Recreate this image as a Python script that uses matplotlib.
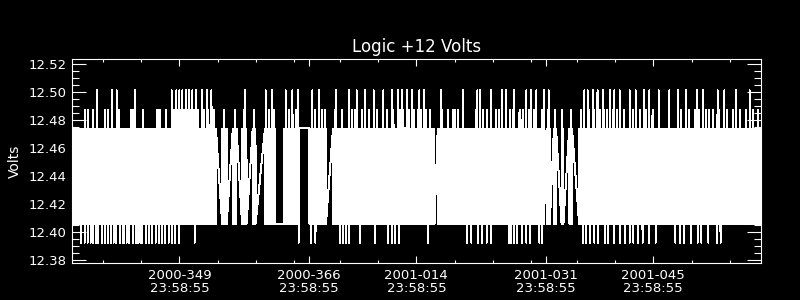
import numpy as np
import matplotlib.pyplot as plt

# time axis: days after 2000-349 23:58:55
x_range = (-14.04, 76.05)
major_days = [0, 17, 31, 48, 62]
major_labels = ["2000-349\n23:58:55", "2000-366\n23:58:55", "2001-014\n23:58:55",
                "2001-031\n23:58:55", "2001-045\n23:58:55"]
minor_days = [-10, -5, 5, 10, 15, 21, 26, 36, 41, 46, 52, 57, 67, 72]

# quantised voltage levels seen in the telemetry
band_low = 12.4062
band_high = 12.4742
low_spike = 12.3926
up1_spike = 12.4878
up2_spike = 12.5014

# stretches where samples are dense (days) and the level at each end of them
dense_spans = [(-14.04, 4.8), (5.6, 6.2), (7.0, 7.5), (8.2, 8.8), (9.6, 10.0),
               (11.2, 12.6), (13.7, 15.7), (17.0, 19.2), (20.1, 29.4), (29.6, 33.4),
               (33.8, 47.8), (48.1, 48.5), (49.0, 49.3), (50.0, 50.25), (51.0, 51.4),
               (52.3, 76.05)]
span_first = ['lo', 'lo', 'hi', 'lo', 'hi', 'hi', 'lo', 'hi', 'hi', 'hi',
              'hi', 'lo', 'hi', 'lo', 'hi', 'lo']
span_last = ['hi', 'lo', 'hi', 'lo', 'lo', 'lo', 'hi', 'lo', 'hi', 'lo',
             'hi', 'lo', 'hi', 'lo', 'hi', 'lo']

# spike times (days)
up2_days = [-10.8, -8.8, -8.2, -5.8, -1.0, -0.4, 0.0, 0.4, 0.9, 1.3, 1.7, 2.2, 3.0, 3.6,
            4.2, 8.6, 11.3, 12.1, 13.9, 14.8, 15.5, 17.4, 18.3, 20.5, 22.2, 23.2, 24.3,
            25.4, 26.7, 27.8, 28.6, 29.1, 29.8, 30.4, 31.4, 32.0, 34.2, 37.1, 39.0, 39.3,
            40.8, 42.2, 42.7, 43.8, 45.4, 46.0, 46.7, 47.7, 48.3, 52.98, 53.4, 54.1,
            54.7, 55.4, 56.3, 56.9, 57.6, 58.9, 59.7, 60.8, 61.5, 62.7, 64.1, 65.2, 66.3,
            67.7, 68.5, 70.4, 71.3, 72.8, 74.6]
up1_days = [-12.4, -11.9, -11.3, -9.7, -9.3, -7.9, -6.3, -6.0, -4.7, -2.9, -2.7, -2.5,
            -1.7, -0.7, -0.2, 0.2, 0.6, 1.0, 1.5, 1.9, 2.5, 3.2, 3.8, 4.5, 5.9, 7.3, 8.4,
            9.8, 11.7, 12.4, 14.3, 15.2, 17.8, 18.7, 19.0, 20.4, 21.3, 22.6, 23.0, 23.9,
            24.8, 25.9, 27.2, 28.0, 28.9, 29.3, 30.0, 30.7, 31.2, 31.6, 32.3, 32.8, 34.4,
            35.1, 35.8, 36.1, 36.4, 38.8, 39.7, 40.3, 41.4, 41.8, 43.2, 43.6, 44.5, 44.9,
            45.8, 46.4, 47.4, 48.2, 49.1, 50.1, 51.2, 52.5, 53.6, 54.3, 55.0, 55.6, 56.0,
            56.7, 57.3, 58.2, 59.3, 60.2, 61.0, 61.9, 65.6, 66.7, 67.4, 68.0, 68.9, 69.3,
            69.8, 70.6, 71.7, 72.4, 73.3, 74.1, 75.0, 75.7]
low_days = [-12.9, -12.4, -12.0, -11.6, -11.3, -10.9, -10.6, -10.1, -9.7, -9.3, -8.9,
            -8.6, -8.3, -7.8, -7.4, -7.2, -6.9, -6.6, -6.1, -5.7, -5.4, -5.1, -4.9, -4.4,
            -4.0, -3.6, -3.1, -2.7, -2.3, -1.9, -1.4, -0.95, -0.55, 0.0, 2.0, 15.6, 17.2,
            17.8, 21.0, 21.4, 21.8, 22.2, 23.6, 25.6, 27.3, 27.8, 28.2, 28.7, 32.5, 37.6,
            38.2, 39.1, 39.6, 40.2, 40.8, 43.1, 43.4, 43.8, 44.2, 44.8, 45.4, 45.9, 47.1,
            47.4, 52.8, 53.2, 53.7, 54.3, 54.8, 55.7, 56.1, 56.9, 57.6, 58.3, 58.9, 59.4,
            60.0, 60.6, 61.4, 62.3, 64.9, 65.5, 66.0, 66.9, 67.8, 68.3, 69.2, 70.3, 70.8]

# build the sample sequence: dense samples flip between the two band levels
level = {'lo': band_low, 'hi': band_high}
t_parts, v_parts = [], []
for (a, b), first, last in zip(dense_spans, span_first, span_last):
    tt = np.arange(a, b, 0.02)
    other = 'hi' if first == 'lo' else 'lo'
    vv = np.where(np.arange(len(tt)) % 2 == 0, level[first], level[other])
    if vv[-1] != level[last]:
        tt, vv = tt[:-1], vv[:-1]
    t_parts.append(tt)
    v_parts.append(vv)
t_parts += [np.array(up2_days), np.array(up1_days), np.array(low_days)]
v_parts += [np.full(len(up2_days), up2_spike), np.full(len(up1_days), up1_spike),
            np.full(len(low_days), low_spike)]
t = np.concatenate(t_parts)
v = np.concatenate(v_parts)
order = np.argsort(t, kind="stable")
t, v = t[order], v[order]

plt.rcParams['font.family'] = ['DejaVu Sans']
fig = plt.figure(figsize=(8, 3), dpi=100, facecolor='black')
ax = fig.add_axes([0.09, 0.1223, 0.8609, 0.68], facecolor='black')

ax.plot(t, v, color='white', lw=0.72, antialiased=False)

ax.set_xlim(*x_range)
ax.set_ylim(12.3779, 12.5236)
ax.set_xticks(major_days)
ax.set_xticklabels(major_labels)
ax.set_xticks(minor_days, minor=True)
yt = np.arange(12.38, 12.521, 0.02)
ax.set_yticks(yt)
ax.set_yticklabels(["%.2f" % y for y in yt])
ax.set_yticks(np.arange(12.38, 12.5236, 0.005), minor=True)

for s in ax.spines.values():
    s.set_color('white')
    s.set_linewidth(0.8)
ax.tick_params(axis='x', which='major', direction='in', length=4.8, width=0.8,
               colors='white', top=True, bottom=True, labelsize=9.5, pad=4)
ax.tick_params(axis='x', which='minor', direction='in', length=2.4, width=0.8,
               colors='white', top=True, bottom=True)
ax.tick_params(axis='y', which='major', direction='in', length=10, width=0.8,
               colors='white', left=True, right=True, labelsize=9.5, pad=4)
ax.tick_params(axis='y', which='minor', direction='in', length=5, width=0.8,
               colors='white', left=True, right=True)
for lab in ax.get_xticklabels():
    lab.set_linespacing(1.0)

ax.set_title("Logic +12 Volts", color='white', fontsize=12, pad=5)
fig.text(15 / 800, 1 - 161 / 300, "Volts", rotation=90, color='white',
         fontsize=10, ha='center', va='center')

fig.savefig("out.png", dpi=100, facecolor='black')
